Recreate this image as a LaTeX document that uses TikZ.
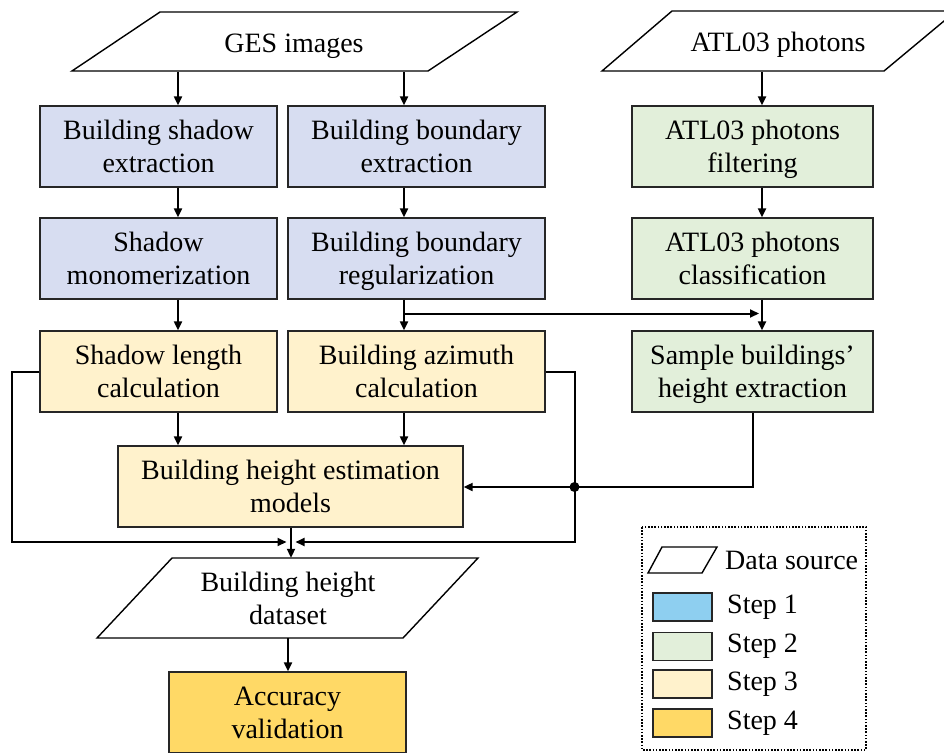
\documentclass[tikz,border=0pt]{standalone}
\usepackage{fontspec}
\setmainfont{Liberation Serif}
\usetikzlibrary{arrows.meta}
\definecolor{sblue}{HTML}{D7DDF1}
\definecolor{sgreen}{HTML}{E2EFDA}
\definecolor{syellow}{HTML}{FFF2CC}
\definecolor{sgold}{HTML}{FFD966}
\definecolor{lblue}{HTML}{8ECFF0}
\definecolor{bord}{HTML}{262626}
\newcommand{\topstrut}{\rule{0pt}{29pt}}
\newcommand{\twol}[2]{\topstrut#1\strut\\#2\strut}
\newcommand{\onel}[1]{\topstrut#1\strut}
\tikzset{
  box/.style={draw=bord, line width=1.3pt, minimum height=81pt, align=center, inner sep=0pt,
    font=\fontsize{28}{33}\selectfont},
  para/.style={draw=black, line width=1.4pt, fill=white},
  ptext/.style={inner sep=0pt, align=center, font=\fontsize{28}{33}\selectfont},
  conn/.style={line width=2pt, draw=black},
  arr/.style={conn, -{Triangle[length=9pt,width=8pt]}},
  leg/.style={draw=bord, line width=1.3pt, minimum width=59pt, minimum height=28pt, inner sep=0pt},
  legtext/.style={anchor=west, inner sep=0pt, font=\fontsize{28}{33}\selectfont}
}
\begin{document}
\begin{tikzpicture}[x=1pt,y=-1pt]
\useasboundingbox (0,0) rectangle (944,752);
\begin{scope}
\clip (0,0) rectangle (944,752);
% data sources
\draw[para] (160,12) -- (517,12) -- (428,71) -- (72,71) -- cycle;
\node[ptext, minimum height=59pt] (ges) at (294,42.5) {\onel{GES images}};
\draw[para] (672,11) -- (956,11) -- (884,71) -- (602,71) -- cycle;
\node[ptext, minimum height=60pt] (atl) at (778,42) {\onel{ATL03 photons}};

% column positions
\coordinate (colA) at (178,0);
\coordinate (colB) at (404,0);
\coordinate (colC) at (762,0);

% row 1
\node[box, fill=sblue, minimum width=237pt] (A1) at (158.5,146.5) {\twol{Building shadow}{extraction}};
\node[box, fill=sblue, minimum width=257pt] (B1) at (416.5,146.5) {\twol{Building boundary}{extraction}};
\node[box, fill=sgreen, minimum width=241pt] (C1) at (752.5,146.5) {\twol{ATL03 photons}{filtering}};
% row 2
\node[box, fill=sblue, minimum width=237pt] (A2) at (158.5,258.5) {\twol{Shadow}{monomerization}};
\node[box, fill=sblue, minimum width=257pt] (B2) at (416.5,258.5) {\twol{Building boundary}{regularization}};
\node[box, fill=sgreen, minimum width=241pt] (C2) at (752.5,258.5) {\twol{ATL03 photons}{classification}};
% row 3
\node[box, fill=syellow, minimum width=237pt] (A3) at (158.5,371.5) {\twol{Shadow length}{calculation}};
\node[box, fill=syellow, minimum width=257pt] (B3) at (416.5,371.5) {\twol{Building azimuth}{calculation}};
\node[box, fill=sgreen, minimum width=241pt] (C3) at (752.5,371.5) {\twol{Sample buildings'}{height extraction}};
% row 4
\node[box, fill=syellow, minimum width=345pt] (M) at (290.5,486.5) {\twol{Building height estimation}{models}};

% dataset
\draw[para] (172,558) -- (478,558) -- (403,638) -- (97,638) -- cycle;
\node[ptext, minimum height=80pt] (D) at (288,598) {\twol{Building height}{dataset}};
% accuracy
\node[box, fill=sgold, minimum width=237pt] (V) at (287.5,712.5) {\twol{Accuracy}{validation}};

% arrows top
\draw[arr] (ges.south -| colA) -- (A1.north -| colA);
\draw[arr] (ges.south -| colB) -- (B1.north -| colB);
\draw[arr] (atl.south -| colC) -- (C1.north -| colC);
\draw[arr] (A1.south -| colA) -- (A2.north -| colA);
\draw[arr] (B1.south -| colB) -- (B2.north -| colB);
\draw[arr] (C1.south -| colC) -- (C2.north -| colC);
\draw[arr] (A2.south -| colA) -- (A3.north -| colA);
\draw[arr] (B2.south -| colB) -- (B3.north -| colB);
\draw[arr] (C2.south -| colC) -- (C3.north -| colC);
% branch
\coordinate (br) at (404,313.5);
\draw[arr, shorten >=3pt] (br) -- (br -| colC);
% to models
\draw[arr] (A3.south -| colA) -- (M.north -| colA);
\draw[arr] (B3.south -| colB) -- (M.north -| colB);
% side loops
\coordinate (lx) at (12,542);
\coordinate (rx) at (574.5,542);
\coordinate (ml) at (286.5,542);
\coordinate (mr) at (295.5,542);
\draw[arr] (A3.west) -- (A3.west -| lx) -- (lx) -- (ml);
\draw[arr] (B3.east) -- (B3.east -| rx) -- (rx) -- (mr);
\coordinate (cx) at (753,487);
\draw[arr] (C3.south -| cx) -- (cx) -- (M.east |- cx);
\fill (574.5,487) circle (5pt);
% down
\coordinate (colM) at (291,0);
\draw[arr] (M.south -| colM) -- (D.north -| colM);
\coordinate (colD) at (288,0);
\draw[arr] (D.south -| colD) -- (V.north -| colD);

% legend
\draw[line width=2pt, dash pattern=on 1.6pt off 1.6pt] (642,527) rectangle (866,750);
\draw[draw=black, line width=1.4pt] (662,547) -- (717,547) -- (702,573) -- (648,573) -- cycle;
\node[legtext] (l0) at (725,560) {Data source};
\node[leg, fill=lblue] (s1) at (682.5,607) {};
\node[leg, fill=sgreen] (s2) at (682.5,646.5) {};
\node[leg, fill=syellow] (s3) at (682.5,684) {};
\node[leg, fill=sgold] (s4) at (682.5,723) {};
\node[legtext] (t1) at (727,607) {Step 1};
\node[legtext] (t2) at (727,646.5) {Step 2};
\node[legtext] (t3) at (727,684) {Step 3};
\node[legtext] (t4) at (727,723) {Step 4};
\end{scope}
\end{tikzpicture}
\end{document}
